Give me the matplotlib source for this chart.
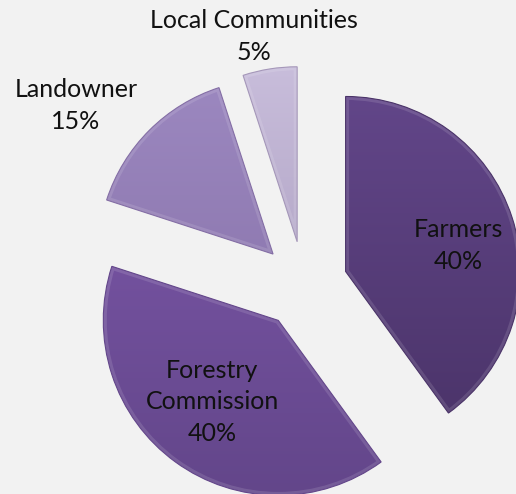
import numpy as np
import matplotlib
matplotlib.use('Agg')
import matplotlib.pyplot as plt
from matplotlib.colors import LinearSegmentedColormap
from matplotlib.patches import Wedge

# Data
groups = ['Farmers', 'Forestry\nCommission', 'Landowner', 'Local Communities']
shares = [40, 40, 15, 5]

# top / bottom shade of each slice
top_colors = ['#624689', '#7B57A8', '#9C88C0', '#C8BDDB']
bottom_colors = ['#4A3368', '#63468A', '#846EA5', '#A597B9']

# label distance from slice centre (in radii) and small angle tweak (deg)
label_dist = [0.66, 0.60, 1.41, 1.20]
label_turn = [-5, -3, 8, 3]

W, H = 516, 494
R_PX = 175.0
CX, CY = 304.0, 285.0

fig = plt.figure(figsize=(W / 100, H / 100), dpi=100, facecolor='#F2F2F2')
ax = fig.add_axes([0, 0, 1, 1])
ax.set_facecolor('#F2F2F2')

wedges, _ = ax.pie(shares, startangle=90, counterclock=False,
                   explode=[0.25] * 4, radius=1.0,
                   wedgeprops=dict(linewidth=0.8))

xlim = (-CX / R_PX, (W - CX) / R_PX)
ylim = (-(H - CY) / R_PX, CY / R_PX)

# gradient fill for each wedge, plus a soft bevel highlight at the rim
for w, c_top, c_bot in zip(wedges, top_colors, bottom_colors):
    cmap = LinearSegmentedColormap.from_list('g', [c_bot, c_top])
    cx, cy = w.center
    grad = np.linspace(0, 1, 256).reshape(-1, 1)
    im = ax.imshow(grad, cmap=cmap, origin='lower', aspect='auto',
                   extent=[cx - 1, cx + 1, cy - 1, cy + 1], zorder=2)
    im.set_clip_path(w)
    w.set_facecolor('none')
    w.set_edgecolor(c_bot)
    w.set_zorder(4)

    rim = Wedge(w.center, w.r, w.theta1, w.theta2, facecolor='none',
                edgecolor='white', linewidth=5, alpha=0.12, zorder=3)
    ax.add_patch(rim)
    rim.set_clip_path(w)

# labels
for w, name, pct, d, turn in zip(wedges, groups, shares, label_dist, label_turn):
    ang = np.deg2rad((w.theta1 + w.theta2) / 2 + turn)
    cx, cy = w.center
    x = cx + d * np.cos(ang)
    y = cy + d * np.sin(ang)
    ax.text(x, y, f'{name}\n{pct}%', ha='center', va='center',
            fontsize=18, family='Lato', color='#111111',
            linespacing=1.45, zorder=5)

ax.set_xlim(*xlim)
ax.set_ylim(*ylim)
ax.set_aspect('auto')
ax.axis('off')

fig.savefig('out.png', dpi=100, facecolor='#F2F2F2')
